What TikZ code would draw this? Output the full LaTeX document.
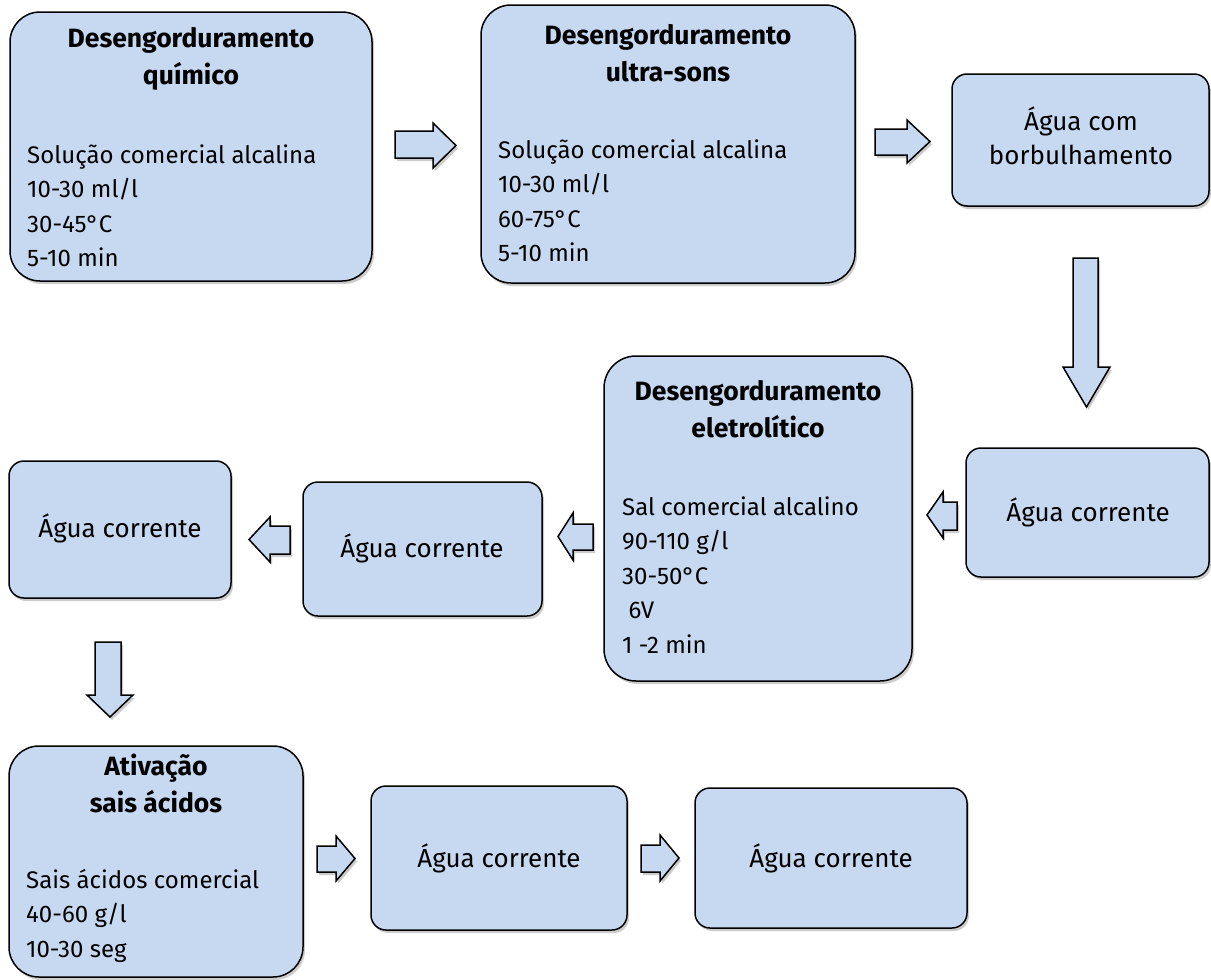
\documentclass[tikz,border=0pt]{standalone}
\usepackage{fontspec}
\setmainfont{Fira Sans}
\usetikzlibrary{shadows,fit}
\definecolor{boxblue}{HTML}{C6D9F1}

% block arrows: right, left and down
\newcommand\rightblock[7]{% tail x, tip x, head base x, head top, head bottom, shaft top, shaft bottom
  \draw[blockarrow] (#1,#6) -- (#3,#6) -- (#3,#4) -- (#2,{(#4+#5)/2}) -- (#3,#5) -- (#3,#7) -- (#1,#7) -- cycle;}
\newcommand\leftblock[7]{% tip x, head base x, tail x, head top, head bottom, shaft top, shaft bottom
  \draw[blockarrow] (#1,{(#4+#5)/2}) -- (#2,#4) -- (#2,#6) -- (#3,#6) -- (#3,#7) -- (#2,#7) -- (#2,#5) -- cycle;}
\newcommand\downblock[7]{% head left, head right, shaft left, shaft right, tail y, head base y, tip y
  \draw[blockarrow] (#3,#5) -- (#4,#5) -- (#4,#6) -- (#2,#6) -- ({(#1+#2)/2},#7) -- (#1,#6) -- (#3,#6) -- cycle;}

\newcommand\stack[2]{\begin{tabular}[t]{@{}#1@{}}#2\end{tabular}}

\begin{document}
\begin{tikzpicture}[x=1pt,y=-1pt,
  softshadow/.style={drop shadow={shadow xshift=2pt,shadow yshift=-3pt,fill=black,opacity=0.2}},
  box/.style={draw=black,line width=1.5pt,fill=boxblue,inner sep=0pt,outer sep=0pt,softshadow},
  blockarrow/.style={draw=black,line width=1.5pt,fill=boxblue,line join=miter,softshadow},
  bodytext/.style={anchor=base west,inner sep=0pt,font=\fontsize{24}{34.5}\selectfont},
  titletext/.style={anchor=base,inner sep=0pt,font=\fontsize{26.5}{37}\selectfont\bfseries},
  plaintext/.style={anchor=base,inner sep=0pt,font=\fontsize{26}{34}\selectfont}]
\useasboundingbox (0,0) rectangle (1211,980);

% process boxes
\node[box,rounded corners=30pt,fit={(10,12) (372,281)}] (b1) {};
\node[box,rounded corners=30pt,fit={(481,5) (855,283)}] (b2) {};
\node[box,rounded corners=15pt,fit={(952,74) (1209,206)}] (b3) {};
\node[box,rounded corners=32pt,fit={(604,356) (912,681)}] (b4) {};
\node[box,rounded corners=15pt,fit={(966,448) (1209,577)}] (b5) {};
\node[box,rounded corners=15pt,fit={(303,482) (542,616)}] (b6) {};
\node[box,rounded corners=15pt,fit={(9,461) (231,598)}] (b7) {};
\node[box,rounded corners=30pt,fit={(9,746) (303,977)}] (b8) {};
\node[box,rounded corners=15pt,fit={(371,786) (627,930)}] (b9) {};
\node[box,rounded corners=15pt,fit={(695,788) (967,928)}] (b10) {};

% box texts
\node[titletext] (t1) at (191,47) {\stack{c}{Desengorduramento\\químico}};
\node[bodytext] (d1) at (27,163) {\stack{l}{Solução comercial alcalina\\10-30 ml/l\\30-45°C\\5-10 min}};

\node[titletext] (t2) at (668,44) {\stack{c}{Desengorduramento\\ultra-sons}};
\node[bodytext] (d2) at (498,158) {\stack{l}{Solução comercial alcalina\\10-30 ml/l\\60-75°C\\5-10 min}};

\node[plaintext] (t3) at (1081,130) {\stack{c}{Água com\\borbulhamento}};

\node[titletext] (t4) at (758,400) {\stack{c}{Desengorduramento\\eletrolítico}};
\node[bodytext] (d4) at (622,515) {\stack{l}{Sal comercial alcalino\\90-110 g/l\\30-50°C\\\ 6V\\1 -2 min}};

\node[plaintext] (t5) at (1088,521) {Água corrente};
\node[plaintext] (t6) at (422,557) {Água corrente};
\node[plaintext] (t7) at (120,537) {Água corrente};

\node[titletext] (t8) at (156,775) {\stack{c}{Ativação\\sais ácidos}};
\node[bodytext] (d8) at (26,888) {\stack{l}{Sais ácidos comercial\\40-60 g/l\\10-30 seg}};

\node[plaintext] (t9) at (499,867) {Água corrente};
\node[plaintext] (t10) at (831,867) {Água corrente};

% block arrows between the steps
\rightblock{395}{456}{433}{123}{168}{131}{158}
\rightblock{875}{930}{907}{120}{163}{129}{155}
\downblock{1063}{1110}{1073}{1098}{258}{367}{407}
\leftblock{927}{943}{957}{492}{538}{502}{530}
\leftblock{558}{573}{593}{513}{560}{524}{550}
\leftblock{249}{270}{290}{517}{562}{526}{554}
\downblock{87}{133}{95}{121}{642}{695}{717}
\rightblock{317}{355}{336}{836}{881}{846}{872}
\rightblock{641}{679}{660}{835}{881}{845}{872}
\end{tikzpicture}
\end{document}
